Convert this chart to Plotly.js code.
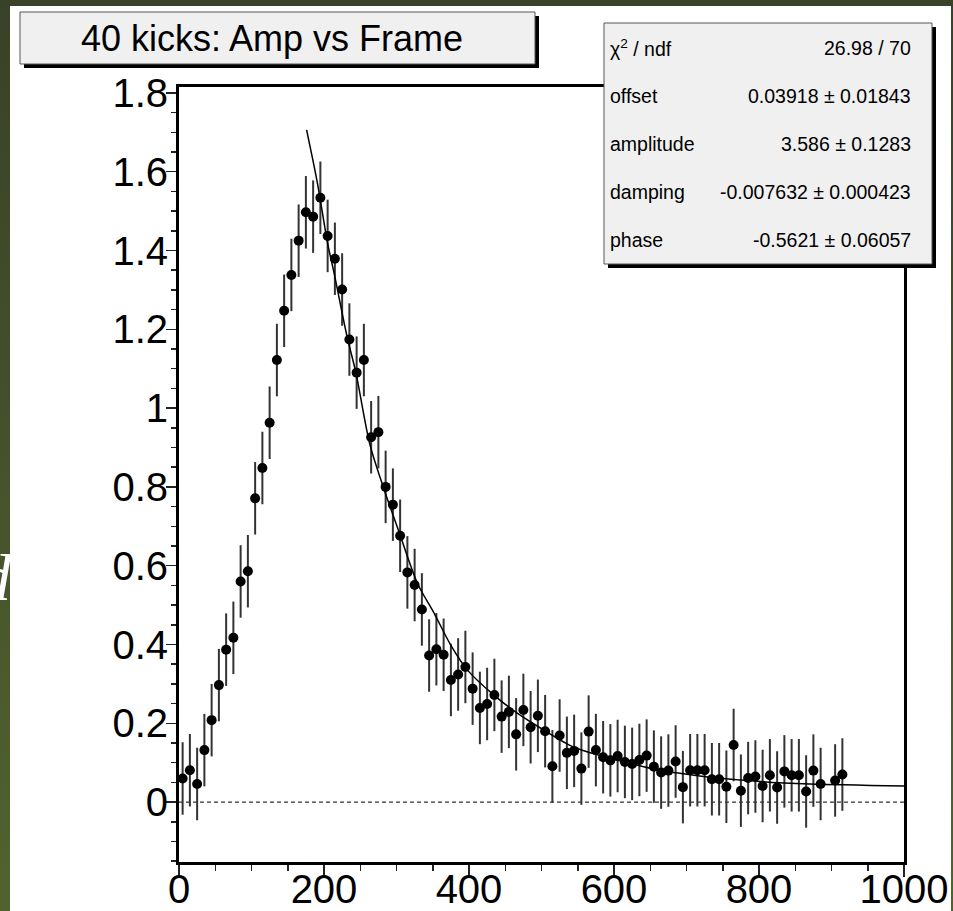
<!DOCTYPE html>
<html><head><meta charset="utf-8">
<script src="https://cdn.plot.ly/plotly-3.0.1.min.js"></script>
<style>
html,body{margin:0;padding:0;width:953px;height:911px;overflow:hidden;background:#3a4229;}
#left{position:absolute;left:0;top:0;width:10px;height:911px;overflow:hidden;background:linear-gradient(to bottom,#394128 0%,#44502b 45%,#52622f 100%);}
#right{position:absolute;left:951px;top:0;width:2px;height:911px;background:linear-gradient(to bottom,#394128 0%,#44502b 45%,#52622f 100%);}
#white{position:absolute;left:10px;top:6px;width:941px;height:905px;background:#ffffff;}
#plot{position:absolute;left:0;top:0;width:953px;height:911px;}
#d{position:absolute;left:-22px;top:545px;font:italic 66px "Liberation Serif","DejaVu Serif",serif;color:#ffffff;line-height:1;}
</style>
</head><body>
<div id="left"><span id="d">d</span></div>
<div id="right"></div>
<div id="white"></div>
<div id="plot"></div>
<script>
// ---- data ----
const frames = [5,15,25,35,45,55,65,75,85,95,105,115,125,135,145,155,165,175,185,195,205,215,225,235,245,255,265,275,285,295,305,315,325,335,345,355,365,375,385,395,405,415,425,435,445,455,465,475,485,495,505,515,525,535,545,555,565,575,585,595,605,615,625,635,645,655,665,675,685,695,705,715,725,735,745,755,765,775,785,795,805,815,825,835,845,855,865,875,885,905,915];
const amps = [0.060,0.081,0.046,0.132,0.208,0.297,0.387,0.417,0.560,0.586,0.771,0.848,0.963,1.122,1.247,1.338,1.425,1.497,1.486,1.534,1.437,1.379,1.301,1.174,1.090,1.122,0.926,0.939,0.800,0.755,0.676,0.583,0.551,0.489,0.372,0.388,0.374,0.310,0.324,0.343,0.288,0.239,0.249,0.272,0.217,0.229,0.172,0.234,0.190,0.219,0.180,0.091,0.169,0.125,0.130,0.085,0.179,0.132,0.114,0.106,0.117,0.102,0.097,0.107,0.118,0.090,0.075,0.080,0.103,0.038,0.081,0.081,0.081,0.058,0.058,0.039,0.145,0.029,0.061,0.065,0.041,0.068,0.037,0.078,0.068,0.068,0.027,0.080,0.046,0.055,0.070];
const ampErr = 0.092;
const fitX = [176,191,205,214,232,244,263,283,304,329,352,375,398,434,467,503,544,581,627,664,691,733,802,870,1000];
const fitY = [1.706,1.570,1.418,1.342,1.180,1.090,0.910,0.793,0.683,0.555,0.479,0.398,0.335,0.272,0.225,0.183,0.140,0.118,0.096,0.080,0.073,0.063,0.052,0.046,0.041];
const zeroX = [0,1000];
const zeroY = [0,0];
const titleText = "40 kicks: Amp vs Frame";
const statLabels = ["χ<sup>2</sup> / ndf","offset","amplitude","damping","phase"];
const statValues = ["26.98 / 70","0.03918 ± 0.01843","3.586 ± 0.1283","-0.007632 ± 0.000423","-0.5621 ± 0.06057"];
const xTicks = [0,200,400,600,800,1000];

// ---- layout geometry (pixels) ----
const W = 953, H = 911;
const L = 179, R = 904, T = 87, B = 862;
const px = x => (x - L) / (R - L);
const py = y => (B - y) / (B - T);
const FONT = "Liberation Sans, Arial, Helvetica, sans-serif";

const traces = [
  {x: zeroX, y: zeroY, mode: 'lines', line: {color: '#000', width: 1, dash: '4px,3px'}, hoverinfo: 'skip'},
  {x: frames, y: amps, mode: 'markers', type: 'scatter',
   marker: {color: '#000', size: 10},
   error_y: {type: 'constant', value: ampErr, width: 0, thickness: 2, color: '#333'}},
  {x: fitX, y: fitY, mode: 'lines', line: {color: '#000', width: 1.5, shape: 'spline', smoothing: 0.8}}
];

const shapes = [];
const annotations = [];
function box(x0, y0, x1, y1, sh) {
  shapes.push({type: 'rect', xref: 'paper', yref: 'paper', layer: 'above',
    x0: px(x0 + sh), x1: px(x1 + sh), y0: py(y0 + sh), y1: py(y1 + sh),
    fillcolor: '#000', line: {width: 0}});
  shapes.push({type: 'rect', xref: 'paper', yref: 'paper', layer: 'above',
    x0: px(x0), x1: px(x1), y0: py(y0), y1: py(y1),
    fillcolor: '#f0f0f0', line: {color: '#555', width: 1}});
}
box(20, 12, 535, 64, 4);
box(604, 23, 932, 264, 4);

annotations.push({xref: 'paper', yref: 'paper', x: px(272), y: py(39), text: titleText,
  showarrow: false, xanchor: 'center', yanchor: 'middle',
  font: {family: FONT, size: 36, color: '#000'}});
const rowY = [48, 96, 144, 192, 240];
for (let i = 0; i < statLabels.length; i++) {
  annotations.push({xref: 'paper', yref: 'paper', x: px(608), y: py(rowY[i]), text: statLabels[i],
    showarrow: false, xanchor: 'left', yanchor: 'middle', font: {family: FONT, size: 19.5, color: '#000'}});
  annotations.push({xref: 'paper', yref: 'paper', x: px(913), y: py(rowY[i]), text: statValues[i],
    showarrow: false, xanchor: 'right', yanchor: 'middle', font: {family: FONT, size: 19.5, color: '#000'}});
}

const layout = {
  width: W, height: H,
  margin: {l: L, r: W - R, t: T, b: H - B, pad: 0},
  paper_bgcolor: 'rgba(0,0,0,0)', plot_bgcolor: 'rgba(0,0,0,0)',
  showlegend: false,
  xaxis: {range: [0, 1000], tickvals: xTicks, ticks: 'outside', ticklen: 12, tickwidth: 1.5, tickcolor: '#222',
    showline: true, linewidth: 3, linecolor: '#000', mirror: true, showgrid: false, zeroline: false,
    ticklabelstandoff: -22,
    tickfont: {family: FONT, size: 40, color: '#000'},
    minor: {dtick: 50, tick0: 0, ticks: 'outside', ticklen: 6, tickwidth: 1.5, tickcolor: '#222', showgrid: false}},
  yaxis: {range: [-0.152, 1.815], tick0: 0, dtick: 0.2, ticks: 'outside', ticklen: 10, tickwidth: 1.5, tickcolor: '#222',
    showline: true, linewidth: 3, linecolor: '#000', mirror: true, showgrid: false, zeroline: false,
    ticklabelstandoff: -10,
    tickfont: {family: FONT, size: 40, color: '#000'},
    minor: {dtick: 0.05, tick0: 0, ticks: 'outside', ticklen: 5, tickwidth: 1.5, tickcolor: '#222', showgrid: false}},
  shapes: shapes,
  annotations: annotations
};
Plotly.newPlot('plot', traces, layout, {displayModeBar: false, staticPlot: true});
</script>
</body></html>
